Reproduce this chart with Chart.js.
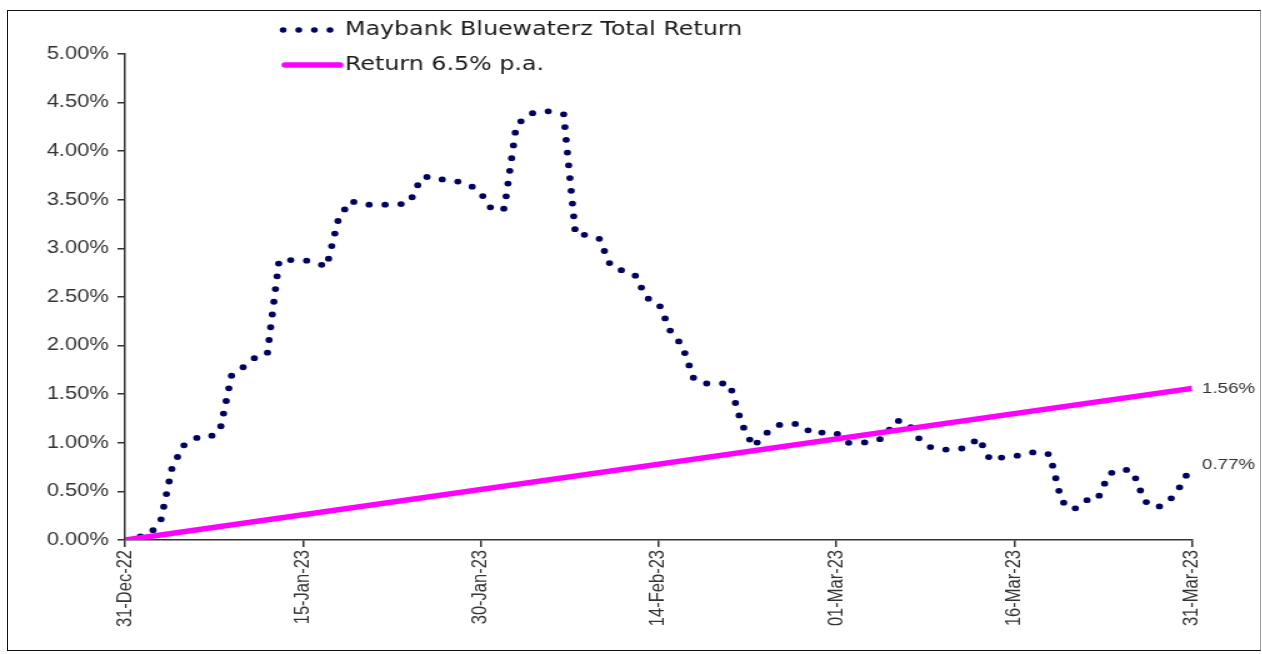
<!DOCTYPE html>
<html>
<head>
<meta charset="utf-8">
<script src="https://cdn.jsdelivr.net/npm/chart.js@4.4.0/dist/chart.umd.min.js"></script>
<style>
  html, body { margin: 0; padding: 0; background: #fff; overflow: hidden; }
  #frame {
    position: absolute; left: 7px; top: 10px; width: 1254px; height: 641px;
    box-sizing: border-box; border: 1.5px solid #111; border-right-color: #999;
  }
  /* the reference is a horizontally stretched picture, so draw narrow and stretch */
  #wrap {
    position: absolute; left: 0; top: 0; width: 1010px; height: 654px;
    transform: scaleX(1.25); transform-origin: 0 0;
  }
</style>
</head>
<body>
<div id="frame"></div>
<div id="wrap"><canvas id="chart"></canvas></div>
<script>
// tick labels on the date axis, one every 15 days
const tickLabels = ["31-Dec-22", "15-Jan-23", "30-Jan-23", "14-Feb-23", "01-Mar-23", "16-Mar-23", "31-Mar-23"]

// daily total return (%), 31-Dec-22 .. 31-Mar-23
const totalReturn = [
  0.00, 0.03, 0.05, 0.19, 0.76, 0.98, 1.05, 1.05, 1.12, 1.70,
  1.78, 1.88, 1.91, 2.88, 2.88, 2.88, 2.86, 2.81, 3.30, 3.49,
  3.45, 3.45, 3.45, 3.45, 3.47, 3.73, 3.74, 3.70, 3.69, 3.66,
  3.57, 3.39, 3.41, 4.26, 4.38, 4.41, 4.41, 4.38, 3.14, 3.14,
  3.10, 2.81, 2.77, 2.73, 2.49, 2.44, 2.15, 2.00, 1.65, 1.61,
  1.61, 1.61, 1.20, 0.96, 1.09, 1.18, 1.20, 1.19, 1.09, 1.11,
  1.10, 1.00, 1.00, 1.01, 1.05, 1.23, 1.21, 1.04, 0.95, 0.93,
  0.93, 0.95, 1.05, 0.82, 0.85, 0.86, 0.89, 0.91, 0.88, 0.40,
  0.31, 0.41, 0.41, 0.68, 0.73, 0.71, 0.40, 0.33, 0.39, 0.55,
  0.77
]

// 6.5% p.a. line: start and end of the period
const benchmarkDays = [0, 90]
const benchmark = [0.00, 1.56]

const seriesNames = ["Maybank Bluewaterz Total Return", "Return 6.5% p.a."]

const navy = "#00005e"
const magenta = "#ff00ff"

// legend drawn inside the plot like the original
const legendPlugin = {
  id: "insideLegend",
  afterDraw(chart) {
    const ctx = chart.ctx
    ctx.save()
    ctx.font = "19px 'DejaVu Sans'"
    ctx.fillStyle = "#1a1a1a"
    ctx.textBaseline = "middle"
    // dotted sample
    ctx.strokeStyle = navy
    ctx.lineWidth = 5.5
    ctx.lineCap = "round"
    ctx.setLineDash([0, 12.5])
    ctx.beginPath()
    ctx.moveTo(226.5, 30)
    ctx.lineTo(265, 30)
    ctx.stroke()
    ctx.fillText(seriesNames[0], 276, 30)
    // solid sample
    ctx.setLineDash([])
    ctx.strokeStyle = magenta
    ctx.lineWidth = 5.5
    ctx.beginPath()
    ctx.moveTo(228, 65)
    ctx.lineTo(272, 65)
    ctx.stroke()
    ctx.fillText(seriesNames[1], 276, 65)
    ctx.restore()
  },
}

// last value written right of the plot
const endLabels = {
  id: "endLabels",
  afterDraw(chart) {
    const ctx = chart.ctx
    const y = chart.scales.y
    ctx.save()
    ctx.font = "15px 'Liberation Sans'"
    ctx.fillStyle = "#333"
    ctx.textBaseline = "middle"
    chart.data.datasets.forEach((ds) => {
      const last = ds.data[ds.data.length - 1].y
      ctx.fillText(last.toFixed(2) + "%", chart.chartArea.right + 8, y.getPixelForValue(last))
    })
    ctx.restore()
  },
}

new Chart(document.getElementById("chart"), {
  type: "line",
  data: {
    datasets: [
      {
        label: seriesNames[1],
        data: benchmark.map((v, i) => ({ x: benchmarkDays[i], y: v })),
        borderColor: magenta,
        borderWidth: 5.5,
        pointRadius: 0,
        order: 0,
      },
      {
        label: seriesNames[0],
        data: totalReturn.map((v, i) => ({ x: i, y: v })),
        borderColor: navy,
        borderWidth: 5.8,
        borderDash: [0, 12.8],
        borderCapStyle: "round",
        borderJoinStyle: "round",
        pointRadius: 0,
        order: 1,
      },
    ],
  },
  options: {
    responsive: true,
    maintainAspectRatio: false,
    animation: false,
    layout: { padding: { left: 0, right: 56.4, top: 54, bottom: 0 } },
    plugins: { legend: { display: false }, tooltip: { enabled: false } },
    scales: {
      x: {
        type: "linear",
        min: 0,
        max: 90,
        afterFit: (s) => { s.height = 114 },
        ticks: {
          stepSize: 15,
          autoSkip: false,
          maxRotation: 90,
          minRotation: 90,
          padding: 3,
          color: "#333",
          font: { family: "'Liberation Sans'", size: 16.5 },
          callback: (v) => tickLabels[v / 15],
        },
        grid: { drawOnChartArea: false, tickLength: 7, color: "#333", lineWidth: 1.5 },
        border: { color: "#333", width: 1.5 },
      },
      y: {
        min: 0,
        max: 5,
        afterFit: (s) => { s.width = 100 },
        ticks: {
          stepSize: 0.5,
          padding: 7,
          color: "#333",
          font: { family: "'Liberation Sans'", size: 17.5 },
          callback: (v) => v.toFixed(2) + "%",
        },
        grid: { drawOnChartArea: false, tickLength: 6, color: "#333", lineWidth: 1.5 },
        border: { color: "#333", width: 1.5 },
      },
    },
  },
  plugins: [legendPlugin, endLabels],
})
</script>
</body>
</html>
